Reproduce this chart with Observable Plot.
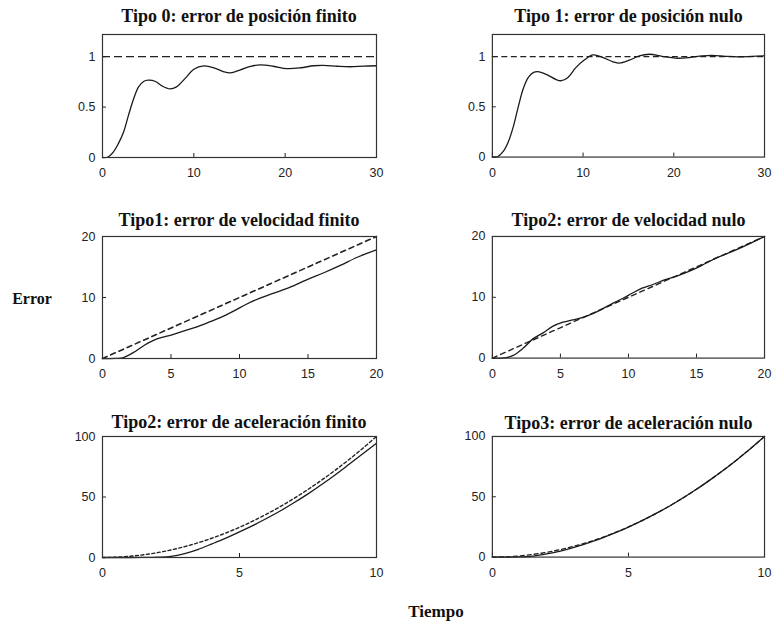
<!DOCTYPE html>
<html><head><meta charset="utf-8">
<script src="https://cdn.jsdelivr.net/npm/d3@7"></script>
<script src="https://cdn.jsdelivr.net/npm/@observablehq/plot@0.6"></script>
<style>
body{margin:0;background:#fff;}
#root{position:relative;width:772px;height:626px;background:#fff;}
.panel{position:absolute;}
.lbl{position:absolute;transform:translate(-50%,-50%);font-family:"Liberation Serif","Times New Roman",serif;font-weight:bold;font-size:18px;white-space:nowrap;color:#111;}
</style></head><body><div id="root"></div>
<script>
// ---------- data ----------
const titles = [
  "Tipo 0: error de posición finito",
  "Tipo 1: error de posición nulo",
  "Tipo1: error de velocidad finito",
  "Tipo2: error de velocidad nulo",
  "Tipo2: error de aceleración finito",
  "Tipo3: error de aceleración nulo"
];
const yAxisLabel = "Error";
const xAxisLabel = "Tiempo";

// step panels
const stepTicksX = [0, 10, 20, 30];
const stepTicksY = [0, 0.5, 1];
const stepRef = [1];
const tipo0T = [0, 0.6, 1.2, 1.75, 2.3, 2.85, 3.4, 3.95, 4.5, 5.0, 5.8, 6.5, 7.4, 8.1, 9.1, 10.0, 11.1, 12.2, 13.3, 14.0, 15.1, 16.2, 17.3, 18.7, 20.2, 21.7, 23.1, 24.2, 25.7, 27.1, 28.6, 30];
const tipo0Y = [0, 0.005, 0.056, 0.14, 0.25, 0.42, 0.58, 0.70, 0.754, 0.767, 0.754, 0.71, 0.68, 0.70, 0.79, 0.875, 0.908, 0.89, 0.85, 0.84, 0.87, 0.905, 0.918, 0.905, 0.882, 0.89, 0.91, 0.914, 0.905, 0.9, 0.906, 0.91];
const tipo1T = [0, 0.6, 1.2, 1.75, 2.3, 2.85, 3.4, 3.95, 4.5, 5.0, 6.0, 7.05, 7.6, 8.3, 9.2, 10.2, 11.1, 12.2, 13.3, 14.0, 15.1, 16.2, 17.3, 18.7, 20.2, 21.7, 23.1, 24.2, 25.7, 27.1, 28.6, 30];
const tipo1Y = [0, 0.005, 0.056, 0.15, 0.30, 0.50, 0.68, 0.79, 0.84, 0.85, 0.82, 0.77, 0.76, 0.79, 0.89, 0.97, 1.016, 0.99, 0.948, 0.934, 0.964, 1.007, 1.023, 1.003, 0.984, 0.99, 1.007, 1.013, 1.003, 0.997, 1.003, 1.008];

// ramp panels
const rampTicksX = [0, 5, 10, 15, 20];
const rampTicksY = [0, 10, 20];
const rampT = [0, 20];
const rampY = [0, 20];
const velFinT = [0, 1.0, 1.53, 2.27, 3.0, 3.97, 4.95, 5.9, 6.9, 7.6, 8.6, 9.6, 10.5, 11.5, 12.5, 13.7, 14.9, 16.2, 17.4, 18.6, 20];
const velFinY = [0, 0.02, 0.16, 1.0, 2.1, 3.2, 3.8, 4.5, 5.2, 5.8, 6.7, 7.8, 8.9, 9.9, 10.7, 11.7, 12.9, 14.1, 15.3, 16.6, 17.8];
const velNulT = [0, 0.9, 1.53, 2.27, 3.0, 3.73, 4.46, 5.19, 5.92, 6.65, 7.38, 8.1, 8.84, 9.57, 10.3, 11.0, 11.8, 12.7, 13.7, 14.7, 15.7, 16.6, 17.6, 18.6, 20];
const velNulY = [0, 0.02, 0.44, 1.64, 3.2, 4.15, 5.25, 5.9, 6.3, 6.7, 7.3, 8.1, 9.0, 9.8, 10.7, 11.5, 12.1, 12.9, 13.6, 14.5, 15.6, 16.6, 17.5, 18.5, 20];

// parabola panels
const parTicksX = [0, 5, 10];
const parTicksY = [0, 50, 100];
const parT = [0, 0.5, 1, 1.5, 2, 2.5, 3, 3.5, 4, 4.5, 5, 5.5, 6, 6.5, 7, 7.5, 8, 8.5, 9, 9.5, 10];
const parRef = [0, 0.25, 1, 2.25, 4, 6.25, 9, 12.25, 16, 20.25, 25, 30.25, 36, 42.25, 49, 56.25, 64, 72.25, 81, 90.25, 100];
const acelFinY = [0, 0, 0, 0.05, 0.3, 1.0, 3.3, 6.8, 11.3, 16.0, 21.2, 26.6, 32.4, 38.6, 45.4, 52.6, 60.3, 68.4, 77.0, 85.7, 94.5];
const acelNulY = [0, 0, 0.1, 0.8, 2.6, 5.0, 8.0, 11.6, 15.5, 20.0, 24.9, 30.2, 36.0, 42.2, 49.0, 56.2, 64.0, 72.2, 81.0, 90.2, 100];

// ---------- drawing ----------
const root = document.getElementById("root");
const zip = (t, y) => t.map((v, i) => ({t: v, y: y[i]}));
const fmt = d => String(d);

function panel(cfg) {
  const mL = 40, mR = 8, mT = 8, mB = 30;
  const fw = cfg.fw, fh = cfg.fh;
  const marks = [];
  if (cfg.refConst) marks.push(Plot.ruleY(cfg.refConst, {stroke: "#222", strokeWidth: 1.3, strokeDasharray: cfg.dash}));
  if (cfg.ref) marks.push(Plot.line(cfg.ref, {x: "t", y: "y", stroke: "#222", strokeWidth: cfg.dashW || 1.3, strokeDasharray: cfg.dash, curve: "catmull-rom"}));
  marks.push(Plot.line(cfg.solid, {x: "t", y: "y", stroke: "#1a1a1a", strokeWidth: 1.3, curve: "catmull-rom"}));
  marks.push(Plot.tickX(cfg.xTicks, {x: d => d, stroke: "#222", insetTop: fh - 4}));
  marks.push(Plot.tickY(cfg.yTicks, {y: d => d, stroke: "#222", insetRight: fw - 4}));
  marks.push(Plot.frame({stroke: "#333", strokeWidth: 1.2}));
  const p = Plot.plot({
    width: fw + mL + mR, height: fh + mT + mB,
    marginLeft: mL, marginRight: mR, marginTop: mT, marginBottom: mB,
    style: {fontFamily: "'Liberation Sans', Arial, sans-serif", fontSize: "12.5px", color: "#222", background: "white", overflow: "visible"},
    x: {domain: cfg.xDomain, ticks: cfg.xTicks, tickFormat: fmt, tickSize: 0, tickPadding: 11, label: null},
    y: {domain: cfg.yDomain, ticks: cfg.yTicks, tickFormat: fmt, tickSize: 0, tickPadding: 7, label: null},
    marks
  });
  const wrap = document.createElement("div");
  wrap.className = "panel";
  wrap.style.left = (cfg.left - mL) + "px";
  wrap.style.top = (cfg.top - mT) + "px";
  wrap.appendChild(p);
  root.appendChild(wrap);
  const t = document.createElement("div");
  t.className = "lbl";
  t.textContent = cfg.title;
  t.style.left = (cfg.left + fw / 2) + "px";
  t.style.top = cfg.titleY + "px";
  root.appendChild(t);
}

const stepDom = [0, 1.22];
panel({left: 102, top: 34, fw: 274, fh: 123, xDomain: [0, 30], yDomain: stepDom, xTicks: stepTicksX, yTicks: stepTicksY,
  refConst: stepRef, dash: "8,4", solid: zip(tipo0T, tipo0Y), title: titles[0], titleY: 16});
panel({left: 492, top: 34, fw: 273, fh: 123, xDomain: [0, 30], yDomain: stepDom, xTicks: stepTicksX, yTicks: stepTicksY,
  refConst: stepRef, dash: "6,3.5", solid: zip(tipo1T, tipo1Y), title: titles[1], titleY: 16});
panel({left: 102, top: 236, fw: 274, fh: 122, xDomain: [0, 20], yDomain: [0, 20], xTicks: rampTicksX, yTicks: rampTicksY,
  ref: zip(rampT, rampY), dash: "5,4", dashW: 1.6, solid: zip(velFinT, velFinY), title: titles[2], titleY: 220});
panel({left: 492, top: 236, fw: 273, fh: 122, xDomain: [0, 20], yDomain: [0, 20], xTicks: rampTicksX, yTicks: rampTicksY,
  ref: zip(rampT, rampY), dash: "5,4", dashW: 1.4, solid: zip(velNulT, velNulY), title: titles[3], titleY: 220});
panel({left: 102, top: 436, fw: 274, fh: 121, xDomain: [0, 10], yDomain: [0, 100], xTicks: parTicksX, yTicks: parTicksY,
  ref: zip(parT, parRef), dash: "3,2.5", dashW: 1.4, solid: zip(parT, acelFinY), title: titles[4], titleY: 422});
panel({left: 492, top: 436, fw: 273, fh: 121, xDomain: [0, 10], yDomain: [0, 100], xTicks: parTicksX, yTicks: parTicksY,
  ref: zip(parT, parRef), dash: "4,3", dashW: 1.3, solid: zip(parT, acelNulY), title: titles[5], titleY: 423});

const ey = document.createElement("div");
ey.className = "lbl"; ey.style.fontSize = "16px";
ey.textContent = yAxisLabel; ey.style.left = "32px"; ey.style.top = "299px";
root.appendChild(ey);
const ex = document.createElement("div");
ex.className = "lbl"; ex.style.fontSize = "17px";
ex.textContent = xAxisLabel; ex.style.left = "436px"; ex.style.top = "612px";
root.appendChild(ex);
</script></body></html>
